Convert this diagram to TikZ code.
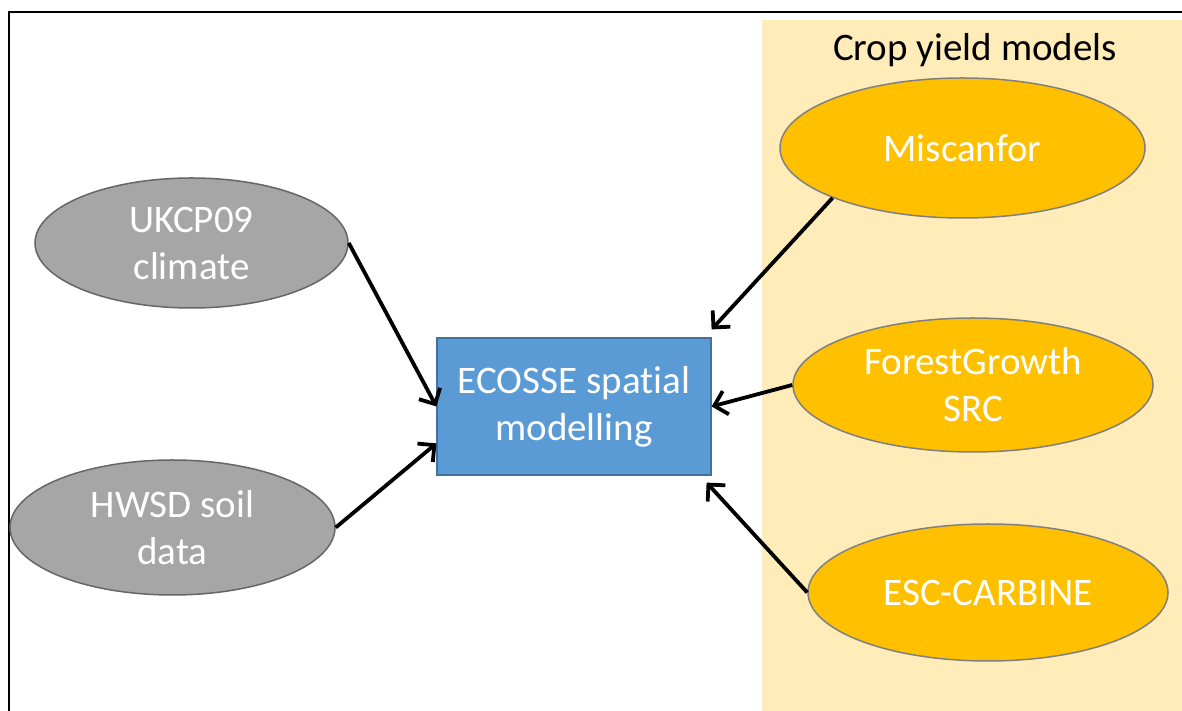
\documentclass[tikz,border=0pt]{standalone}
\usepackage{fontspec}
\setmainfont{Carlito}[Ligatures={NoCommon}]
\usepackage{tikz}
\usetikzlibrary{shapes.geometric,arrows.meta}

\definecolor{panelbg}{RGB}{255,236,184}
\definecolor{cropfill}{RGB}{255,192,0}
\definecolor{datafill}{RGB}{166,166,166}
\definecolor{boxfill}{RGB}{91,155,213}
\definecolor{boxline}{RGB}{65,113,156}

\begin{document}
\begin{tikzpicture}[x=1pt,y=1pt,
    txt/.style={font=\fontsize{39}{47}\selectfont, text=white, align=center, inner sep=0pt},
    dataset/.style={ellipse, txt, fill=datafill, draw=gray!80!black, line width=1.5pt},
    cropmodel/.style={ellipse, txt, fill=cropfill, draw=gray, line width=1.5pt},
    feed/.style={line width=3.8pt, -{Straight Barb[length=12pt,width=24pt]}}]
  \useasboundingbox (0,0) rectangle (1182,711);
  % frame and crop model panel
  \fill[panelbg] (762,0) rectangle (1182,691);
  \draw[line width=2.4pt] (9,0) -- (9,699) -- (1182,699);
  \node [font=\fontsize{39}{47}\selectfont, inner sep=0pt] (title) at (975,661) {Crop yield models};
  % inputs
  \node [dataset, minimum width=313, minimum height=130] (climate) at (191.5,468) {UKCP09\\climate};
  \node [dataset, minimum width=325, minimum height=135] (soil) at (172.5,183.5) {HWSD soil\\data};
  \node [rectangle, txt, fill=boxfill, draw=boxline, line width=1.2pt,
         minimum width=274, minimum height=137] (ecosse) at (574,304.5) {ECOSSE spatial\\modelling};
  \node [cropmodel, minimum width=365, minimum height=140] (miscanfor) at (962.5,563) {Miscanfor};
  \node [cropmodel, minimum width=360, minimum height=134] (forest) at (973,326) {ForestGrowth\\SRC};
  \node [cropmodel, minimum width=360, minimum height=137] (carbine) at (988,118.5) {ESC-CARBINE};
  % links
  \draw [feed] (climate.east) -- (ecosse.west);
  \draw [feed] (soil.east) -- (ecosse.195);
  \draw [feed] (miscanfor.201) -- ([yshift=8pt]ecosse.north east);
  \draw [feed] (forest.west) -- (ecosse.east);
  \draw [feed] (carbine.west) -- ([shift={(-5pt,-7pt)}]ecosse.south east);
\end{tikzpicture}
\end{document}
